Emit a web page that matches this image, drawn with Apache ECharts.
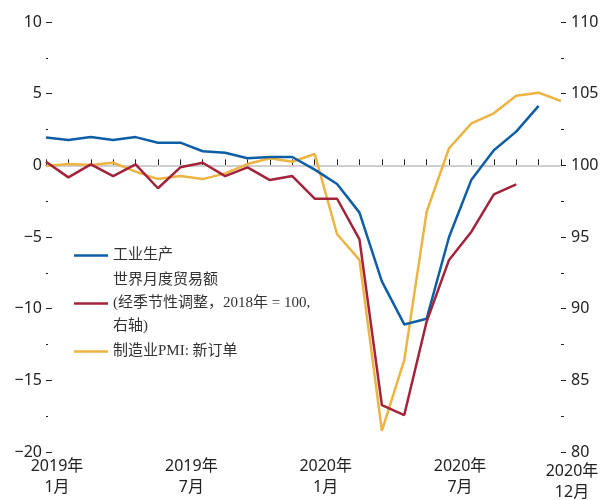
<!DOCTYPE html>
<html><head><meta charset="utf-8">
<script src="https://cdn.jsdelivr.net/npm/echarts@6/dist/echarts.min.js"></script>
<style>html,body{margin:0;padding:0;background:#fff}#c{width:603px;height:500px}</style>
</head><body><div id="c"></div>
<script>
const months = ['2019-01','2019-02','2019-03','2019-04','2019-05','2019-06','2019-07','2019-08','2019-09','2019-10','2019-11','2019-12',
                '2020-01','2020-02','2020-03','2020-04','2020-05','2020-06','2020-07','2020-08','2020-09','2020-10','2020-11','2020-12'];
const xTickIdx = [0, 6, 12, 18, 23];
const xTickText = ['2019年\n1月', '2019年\n7月', '2020年\n1月', '2020年\n7月', '2020年\n12月'];
const seriesNames = ['工业生产', '世界月度贸易额\n(经季节性调整，2018年 = 100,\n右轴)', '制造业PMI: 新订单'];
const industrialProduction = [1.95,1.77,1.97,1.77,1.97,1.58,1.58,0.98,0.88,0.49,0.58,0.58,-0.3,-1.3,-3.3,-8.1,-11.1,-10.7,-5.0,-1.0,1.05,2.35,4.15,null];
const worldTrade = [100.25,99.16,100.07,99.25,100.07,98.4,99.86,100.18,99.25,99.86,98.97,99.25,97.67,97.67,94.84,83.27,82.58,89.1,93.4,95.37,97.98,98.67,null,null];
const pmiNewOrders = [-0.05,0.09,0.02,0.18,-0.44,-0.96,-0.75,-0.96,-0.56,0.09,0.49,0.25,0.79,-4.81,-6.6,-18.52,-13.59,-3.24,1.19,2.93,3.63,4.86,5.07,4.49];
const leftAxis = {min: -20, max: 10, interval: 5};
const rightAxis = {min: 80, max: 110, interval: 5};

const colors = ['#0E5EA6', '#A3233A', '#EDB444'];
const sansFont = '"Noto Sans", "Noto Sans CJK SC", sans-serif';
const serifFont = '"Liberation Serif", "Noto Sans CJK SC", serif';
const minus = v => String(v).replace('-', '\u2212');

const chart = echarts.init(document.getElementById('c'), null, {renderer: 'canvas'});
chart.setOption({
  animation: false,
  color: colors,
  grid: {left: 46, right: 42, top: 22, bottom: 48, containLabel: false, outerBoundsMode: 'none'},
  legend: {
    orient: 'vertical', left: 69, top: 239, itemWidth: 34, itemHeight: 2.5, itemGap: 2,
    icon: 'rect',
    data: seriesNames,
    textStyle: {fontFamily: serifFont, fontSize: 15, lineHeight: 23, color: '#333'}
  },
  xAxis: {
    type: 'category', data: months, boundaryGap: false,
    axisLine: {lineStyle: {color: '#222', width: 1}},
    axisTick: {inside: true, length: 6, interval: 0, lineStyle: {color: '#222'}},
    axisLabel: {
      interval: (i) => xTickIdx.includes(i),
      formatter: (v, i) => {
        const k = xTickIdx.indexOf(i);
        if (k < 0) return '';
        return i === 23 ? '{s| }\n' + xTickText[k] : xTickText[k];
      },
      rich: {s: {fontSize: 1, lineHeight: 5}},
      padding: [0, 0, 0, 22], margin: 4,
      fontFamily: sansFont, fontSize: 16, lineHeight: 21, color: '#222'
    },
    splitLine: {show: false}
  },
  yAxis: [{
    type: 'value', min: leftAxis.min, max: leftAxis.max, interval: leftAxis.interval,
    axisLine: {show: false},
    axisTick: {show: true, inside: true, length: 6, lineStyle: {color: '#222'}},
    minorTick: {show: true, splitNumber: 2, length: 2, lineStyle: {color: '#222'}},
    axisLabel: {margin: 4, formatter: minus, fontFamily: sansFont, fontSize: 16, color: '#222'},
    splitLine: {show: false}
  }, {
    type: 'value', min: rightAxis.min, max: rightAxis.max, interval: rightAxis.interval,
    position: 'right',
    axisLine: {show: false},
    axisTick: {show: true, inside: false, length: 5, lineStyle: {color: '#222'}},
    minorTick: {show: true, splitNumber: 2, length: 3, lineStyle: {color: '#222'}},
    axisLabel: {margin: 10, fontFamily: sansFont, fontSize: 16, color: '#222'},
    splitLine: {show: false}
  }],
  series: [{
    name: seriesNames[0], type: 'line', yAxisIndex: 0, data: industrialProduction,
    symbol: 'none', lineStyle: {width: 2.5, color: colors[0]}, z: 3,
    markLine: {silent: true, symbol: 'none', label: {show: false},
      lineStyle: {color: '#cfcfcf', width: 2, type: 'solid'}, data: [{yAxis: 0}], z: 1}
  }, {
    name: seriesNames[1], type: 'line', yAxisIndex: 1, data: worldTrade,
    symbol: 'none', lineStyle: {width: 2.5, color: colors[1]}, z: 3
  }, {
    name: seriesNames[2], type: 'line', yAxisIndex: 0, data: pmiNewOrders,
    symbol: 'none', lineStyle: {width: 2.5, color: colors[2]}, z: 2
  }]
});
</script></body></html>
